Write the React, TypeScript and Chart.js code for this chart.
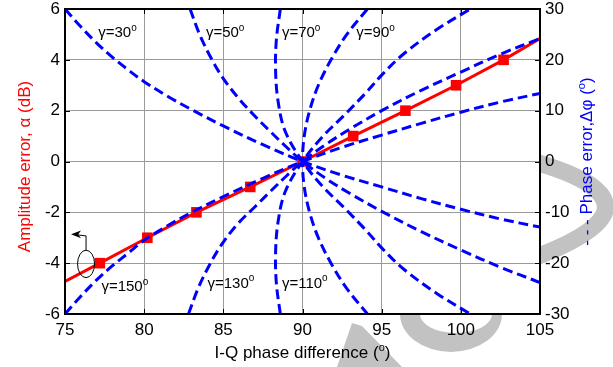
import React, { useEffect, useRef } from 'react';
import { Chart, registerables } from 'chart.js';

Chart.register(...registerables);

const FAMILY = '"Liberation Sans", Arial, Helvetica, sans-serif';

// Tick values
const xTicks = [75, 80, 85, 90, 95, 100, 105];
const yLeftTicks = [-6, -4, -2, 0, 2, 4, 6];
const yRightTicks = [-30, -20, -10, 0, 10, 20, 30];

// Amplitude error (dB) vs I-Q phase difference (deg)
const ampX = [75, 77.2, 80.2, 83.3, 86.7, 90, 93.2, 96.5, 99.7, 102.7, 105];
const ampY = [-4.72, -4, -3, -2, -1, 0, 1, 2, 3, 4, 4.84];
const ampMarker = [0, 1, 1, 1, 1, 1, 1, 1, 1, 1, 0];

// Phase error (deg) curves for each gamma
const g30X = [75, 76, 77, 78, 79, 80, 81.5, 83, 85, 87.5, 90, 92.5, 95, 97.5, 100, 102.5, 105];
const g30Y = [30, 26.5, 23.3, 20.5, 18.0, 15.7, 12.8, 10.2, 7.0, 3.3, 0, -2.7, -5.0, -7.3, -9.4, -11.3, -12.9];

const g150X = [75, 76, 77, 78, 79, 80, 81.5, 83, 85, 87.5, 90, 92.5, 95, 97.5, 100, 102.5, 105];
const g150Y = [-30, -26.5, -23.3, -20.5, -18.0, -15.5, -12.6, -10.0, -6.9, -3.3, 0, 2.8, 5.2, 7.5, 9.7, 11.7, 13.4];

const g50X = [82.9, 83.5, 84.2, 85, 86, 87, 88, 89, 90, 91.5, 93, 95, 97.5, 100, 102.5, 105];
const g50Y = [30, 25, 20.5, 16.3, 12.3, 8.9, 5.8, 2.8, 0, -3.4, -6.3, -9.8, -13.8, -17.4, -20.8, -23.8];

const g130X = [82.8, 83.4, 84.1, 84.9, 85.9, 87, 88, 89, 90, 91.5, 93, 95, 97.5, 100, 102.5, 105];
const g130Y = [-30, -25, -20.5, -16.3, -12.3, -8.9, -5.8, -2.8, 0, 3.4, 6.4, 10.0, 14.0, 17.6, 21.1, 24.2];

const g70X = [88.6, 88.35, 88.3, 88.45, 88.9, 90, 91.3, 92.6, 94, 95, 96.4, 98.5, 100.6];
const g70Y = [30, 24, 18, 12, 6, 0, -5, -9, -13.5, -17, -21.2, -26, -30];

const g110X = [88.6, 88.35, 88.3, 88.45, 88.9, 90, 91.3, 92.6, 94, 95, 96.4, 98.5, 100.6];
const g110Y = [-30, -24, -18, -12, -6, 0, 5, 9, 13.5, 17, 21.2, 26, 30];

const g90X = [94.1, 92.8, 91.8, 91.0, 90.45, 90.11, 90, 90.11, 90.45, 91.0, 91.8, 92.8, 94.1];
const g90Y = [30, 25, 20, 15, 10, 5, 0, -5, -10, -15, -20, -25, -30];

// Curve labels (position in x / right-axis units)
const gammaLabels = ['γ=30', 'γ=50', 'γ=70', 'γ=90', 'γ=110', 'γ=130', 'γ=150'];
const gammaLabelX = [77.1, 83.9, 88.7, 93.4, 88.7, 84.0, 77.3];
const gammaLabelY = [24.4, 24.4, 24.4, 24.4, -24.8, -24.8, -25.5];

type Part = [string, boolean];

function measureParts(ctx: CanvasRenderingContext2D, parts: Part[], size: number) {
  let w = 0;
  for (const [t, sup] of parts) {
    ctx.font = `${sup ? Math.round(size * 0.65) : size}px ${FAMILY}`;
    w += ctx.measureText(t).width;
  }
  return w;
}

function drawParts(
  ctx: CanvasRenderingContext2D,
  parts: Part[],
  x: number,
  y: number,
  size: number,
  color: string,
  align: 'left' | 'center'
) {
  const total = measureParts(ctx, parts, size);
  let cx = align === 'center' ? x - total / 2 : x;
  ctx.fillStyle = color;
  ctx.textAlign = 'left';
  ctx.textBaseline = 'alphabetic';
  for (const [t, sup] of parts) {
    const s = sup ? Math.round(size * 0.65) : size;
    ctx.font = `${s}px ${FAMILY}`;
    ctx.fillText(t, cx, sup ? y - size * 0.42 : y);
    cx += ctx.measureText(t).width;
  }
}

const pts = (xs: number[], ys: number[]) => xs.map((x, i) => ({ x, y: ys[i] }));

const decoPlugin = {
  id: 'deco',
  beforeDraw(chart: any) {
    const { ctx, chartArea: a } = chart;
    ctx.save();
    ctx.fillStyle = '#ffffff';
    ctx.fillRect(0, 0, chart.width, chart.height);
    // faint watermark pieces outside plot area
    ctx.fillStyle = '#c2c2c2';
    ctx.strokeStyle = '#c2c2c2';
    ctx.beginPath();
    ctx.ellipse(451, 314, 51, 38, 0, 0, Math.PI * 2);
    ctx.moveTo(456 + 36, 314);
    ctx.ellipse(456, 314, 36, 19, 0, 0, Math.PI * 2);
    ctx.fill('evenodd');
    ctx.beginPath();
    ctx.moveTo(337, 367);
    ctx.lineTo(352, 323);
    ctx.lineTo(362, 326);
    ctx.lineTo(402, 367);
    ctx.closePath();
    ctx.fill();
    ctx.lineWidth = 17;
    ctx.beginPath();
    ctx.moveTo(528, 160);
    ctx.quadraticCurveTo(616, 184, 604, 214);
    ctx.quadraticCurveTo(594, 236, 528, 260);
    ctx.stroke();
    // plot background
    ctx.fillStyle = '#ffffff';
    ctx.fillRect(a.left, a.top, a.right - a.left, a.bottom - a.top);
    ctx.restore();
  },
  afterDraw(chart: any) {
    const { ctx, chartArea: a } = chart;
    const xs = chart.scales.x;
    const yl = chart.scales.y;
    const yr = chart.scales.y1;
    ctx.save();
    // inward tick marks
    ctx.strokeStyle = '#000';
    ctx.lineWidth = 1;
    ctx.beginPath();
    for (const v of xTicks) {
      const px = Math.round(xs.getPixelForValue(v)) + 0.5;
      ctx.moveTo(px, a.bottom);
      ctx.lineTo(px, a.bottom - 5);
      ctx.moveTo(px, a.top);
      ctx.lineTo(px, a.top + 5);
    }
    for (const v of yLeftTicks) {
      const py = Math.round(yl.getPixelForValue(v)) + 0.5;
      ctx.moveTo(a.left, py);
      ctx.lineTo(a.left + 5, py);
    }
    for (const v of yRightTicks) {
      const py = Math.round(yr.getPixelForValue(v)) + 0.5;
      ctx.moveTo(a.right, py);
      ctx.lineTo(a.right - 5, py);
    }
    ctx.stroke();
    // axes box
    ctx.lineWidth = 2;
    ctx.strokeRect(a.left, a.top, a.right - a.left, a.bottom - a.top);

    // gamma labels
    gammaLabels.forEach((t, i) => {
      const px = xs.getPixelForValue(gammaLabelX[i]);
      const py = yr.getPixelForValue(gammaLabelY[i]);
      drawParts(ctx, [[t, false], ['o', true]], px, py, 15, '#000', 'left');
    });

    // ellipse + arrow marking the left-axis series
    const ex = xs.getPixelForValue(76.33);
    const ey = yl.getPixelForValue(-4.03);
    ctx.strokeStyle = '#000';
    ctx.lineWidth = 1;
    ctx.beginPath();
    ctx.ellipse(ex, ey, 8.5, 13.7, 0, 0, Math.PI * 2);
    ctx.stroke();
    ctx.beginPath();
    ctx.moveTo(ex, ey - 13.7);
    ctx.lineTo(ex, ey - 28);
    ctx.lineTo(ex - 12, ey - 29.5);
    ctx.stroke();
    ctx.fillStyle = '#000';
    ctx.beginPath();
    ctx.moveTo(ex - 15, ey - 29.8);
    ctx.lineTo(ex - 5, ey - 33.5);
    ctx.lineTo(ex - 8, ey - 29.5);
    ctx.lineTo(ex - 5, ey - 25.8);
    ctx.closePath();
    ctx.fill();

    // axis titles
    const cxPlot = (a.left + a.right) / 2;
    const cyPlot = (a.top + a.bottom) / 2;
    drawParts(
      ctx,
      [['I-Q phase difference (', false], ['o', true], [')', false]],
      cxPlot,
      358,
      17,
      '#000',
      'center'
    );
    ctx.save();
    ctx.translate(24, cyPlot + 5);
    ctx.rotate(-Math.PI / 2);
    drawParts(ctx, [['Amplitude error, α (dB)', false]], 0, 17 * 0.35, 17, '#ff0000', 'center');
    ctx.restore();
    ctx.save();
    ctx.translate(586, cyPlot);
    ctx.rotate(-Math.PI / 2);
    drawParts(
      ctx,
      [['- - - Phase error,Δφ (', false], ['o', true], [')', false]],
      0,
      17 * 0.35,
      17,
      '#0000ff',
      'center'
    );
    ctx.restore();
    ctx.restore();
  },
};

function blueSet(xs: number[], ys: number[]) {
  return {
    type: 'line' as const,
    data: pts(xs, ys),
    yAxisID: 'y1',
    borderColor: '#0000ff',
    backgroundColor: '#0000ff',
    borderWidth: 3,
    borderDash: [10, 5],
    pointRadius: 0,
    tension: 0.35,
    fill: false,
    order: 1,
  };
}

export default function App() {
  const ref = useRef<HTMLCanvasElement | null>(null);
  useEffect(() => {
    document.body.style.margin = '0';
    if (!ref.current) return;
    const tickFont = { family: FAMILY, size: 17 };
    const chart = new Chart(ref.current, {
      type: 'line',
      data: {
        datasets: [
          {
            type: 'line',
            data: pts(ampX, ampY),
            yAxisID: 'y',
            borderColor: '#ff0000',
            backgroundColor: '#ff0000',
            borderWidth: 3,
            pointStyle: 'rect',
            pointRadius: ampMarker.map((m) => (m ? 7.5 : 0)),
            pointBorderWidth: 0,
            tension: 0,
            fill: false,
            order: 2,
          },
          blueSet(g30X, g30Y),
          blueSet(g50X, g50Y),
          blueSet(g70X, g70Y),
          blueSet(g90X, g90Y),
          blueSet(g110X, g110Y),
          blueSet(g130X, g130Y),
          blueSet(g150X, g150Y),
        ] as any,
      },
      options: {
        animation: false,
        responsive: false,
        maintainAspectRatio: false,
        layout: { padding: { top: 9, left: 0, right: 0, bottom: 0 } },
        plugins: { legend: { display: false }, tooltip: { enabled: false } },
        scales: {
          x: {
            type: 'linear',
            position: 'bottom',
            min: 75,
            max: 105,
            afterBuildTicks: (s: any) => {
              s.ticks = xTicks.map((v) => ({ value: v }));
            },
            afterFit: (s: any) => {
              s.height = 53;
              s.paddingLeft = 0;
              s.paddingRight = 0;
            },
            ticks: { font: tickFont, color: '#000', padding: 6, maxRotation: 0, autoSkip: false },
            grid: { color: '#9a9a9a', lineWidth: 1, drawTicks: false },
            border: { display: false },
          },
          y: {
            type: 'linear',
            position: 'left',
            min: -6,
            max: 6,
            afterBuildTicks: (s: any) => {
              s.ticks = yLeftTicks.map((v) => ({ value: v }));
            },
            afterFit: (s: any) => {
              s.width = 65;
              s.paddingTop = 0;
              s.paddingBottom = 0;
            },
            ticks: { font: tickFont, color: '#000', padding: 5, autoSkip: false },
            grid: { color: '#9a9a9a', lineWidth: 1, drawTicks: false },
            border: { display: false },
          },
          y1: {
            type: 'linear',
            position: 'right',
            min: -30,
            max: 30,
            afterBuildTicks: (s: any) => {
              s.ticks = yRightTicks.map((v) => ({ value: v }));
            },
            afterFit: (s: any) => {
              s.width = 73;
              s.paddingTop = 0;
              s.paddingBottom = 0;
            },
            ticks: { font: tickFont, color: '#000', padding: 5, autoSkip: false },
            grid: { display: false, drawTicks: false },
            border: { display: false },
          },
        },
      } as any,
      plugins: [decoPlugin],
    });
    return () => chart.destroy();
  }, []);
  return (
    <div style={{ width: 613, height: 367, position: 'relative' }}>
      <canvas ref={ref} width={613} height={367} style={{ display: 'block' }} />
    </div>
  );
}
